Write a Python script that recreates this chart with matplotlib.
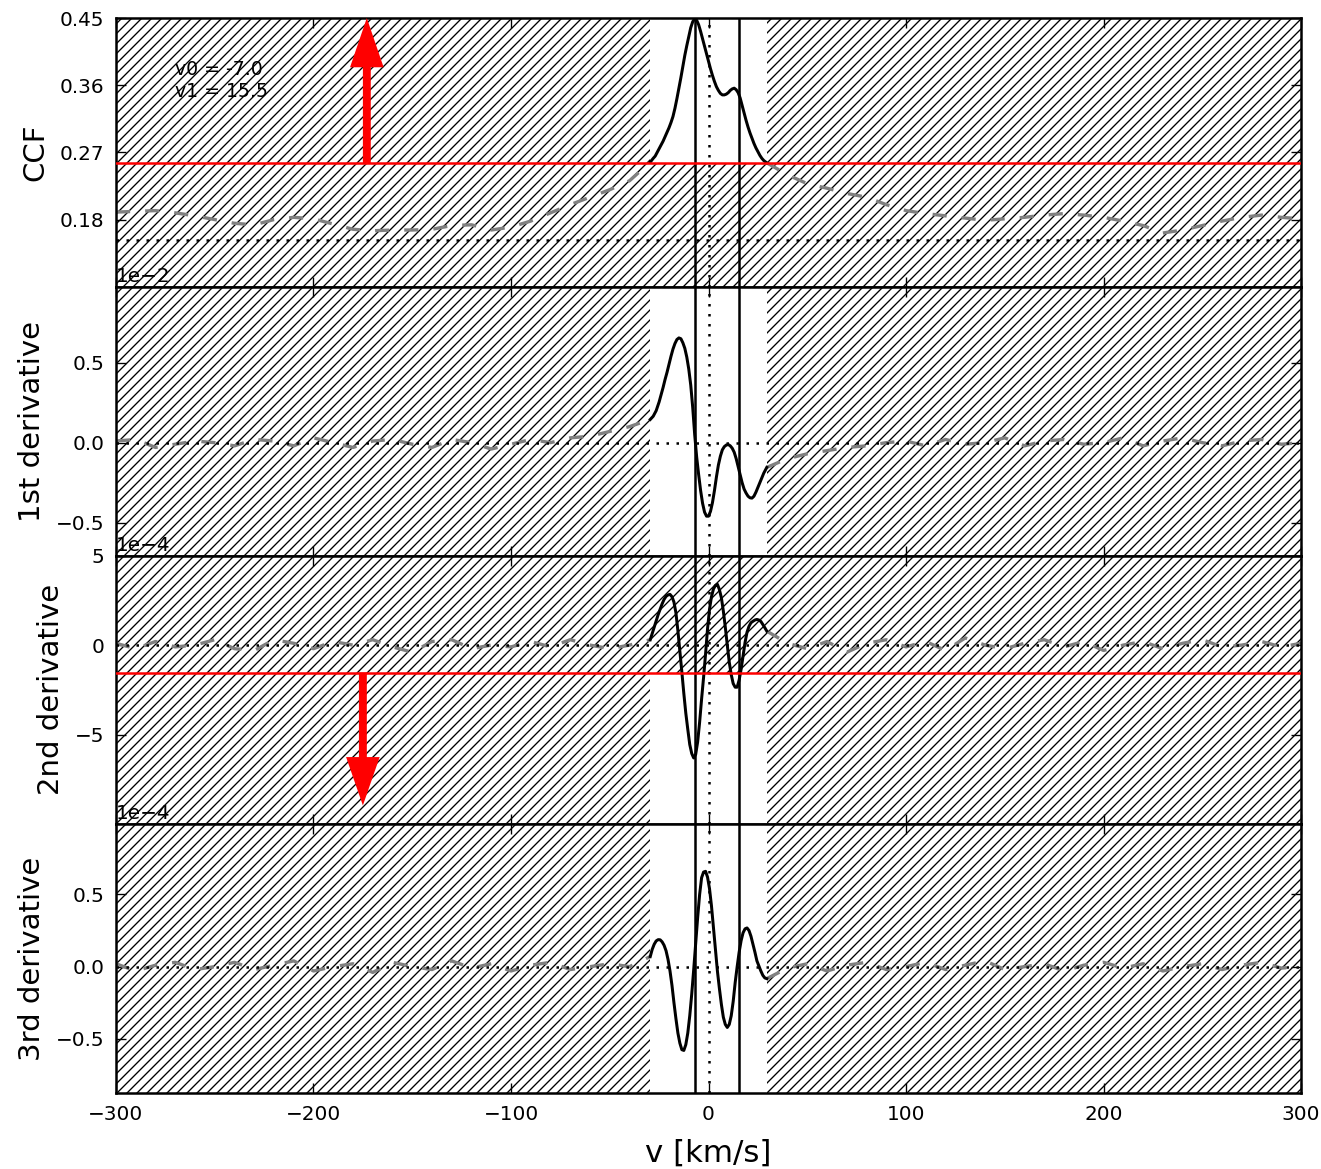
import numpy as np
import matplotlib.pyplot as plt

plt.rcParams['font.family'] = 'DejaVu Sans'
plt.rcParams['hatch.linewidth'] = 0.8
plt.rcParams['hatch.color'] = 'k'
plt.rcParams['lines.scale_dashes'] = False
plt.rcParams['axes.linewidth'] = 1.5
plt.rcParams['xtick.direction'] = 'in'
plt.rcParams['ytick.direction'] = 'in'
plt.rcParams['xtick.top'] = True
plt.rcParams['ytick.right'] = True

# fitted velocities and window
v0 = -7.0
v1 = 15.5
win_lo = -29.5
win_hi = 29.5

# thresholds (red lines)
ccf_thr = 0.2553
d2_thr = -1.53e-4
ccf_base = 0.1525

# CCF inside the window
v_ccf = [-29.5, -28, -27, -26, -25, -24, -23, -22, -21, -20, -19, -18, -17, -16, -15, -14,
         -13, -12, -11, -10, -9, -8, -7, -6, -5, -4, -3, -2, -1, 0, 1, 2, 3, 4, 5, 6, 7, 8,
         9, 10, 11, 12, 13, 14, 15, 16, 17, 18, 19, 20, 21, 22, 23, 24, 25, 26, 27, 28, 29.5]
ccf_in = [0.257, 0.262, 0.265, 0.270, 0.275, 0.280, 0.285, 0.291, 0.297, 0.303, 0.310, 0.318,
          0.329, 0.342, 0.356, 0.370, 0.385, 0.400, 0.413, 0.425, 0.437, 0.445, 0.449, 0.447,
          0.441, 0.432, 0.422, 0.412, 0.402, 0.392, 0.382, 0.373, 0.365, 0.358, 0.353, 0.349,
          0.347, 0.347, 0.348, 0.350, 0.353, 0.355, 0.356, 0.354, 0.350, 0.343, 0.333, 0.323,
          0.313, 0.304, 0.296, 0.289, 0.282, 0.276, 0.271, 0.266, 0.262, 0.259, 0.256]

# 1st derivative inside the window (units of 1e-2)
v_d1 = [-29.5, -28, -26.5, -25, -24, -23, -22, -21, -20, -19, -18, -17, -16, -15, -14, -13,
        -12, -11, -10, -9, -8, -7, -6, -5, -4, -3, -2, -1, 0, 1, 2, 3, 4, 5, 6, 7, 8, 9,
        10, 11, 12, 13, 14, 15, 16, 17, 18, 19, 20, 21, 22, 23, 24, 25, 26, 27, 28, 29.5]
d1_in = [0.145, 0.165, 0.20, 0.255, 0.30, 0.345, 0.395, 0.44, 0.49, 0.54, 0.585, 0.62,
         0.645, 0.655, 0.65, 0.625, 0.59, 0.535, 0.46, 0.36, 0.22, 0.05, -0.09, -0.20,
         -0.30, -0.38, -0.435, -0.46, -0.46, -0.43, -0.375, -0.30, -0.215, -0.14, -0.085,
         -0.045, -0.025, -0.015, -0.012, -0.02, -0.035, -0.06, -0.10, -0.15, -0.20, -0.25,
         -0.29, -0.315, -0.335, -0.345, -0.347, -0.335, -0.31, -0.28, -0.25, -0.22, -0.19,
         -0.155]

# 2nd and 3rd derivatives inside the window (units of 1e-4)
v_d23 = [-29.5, -28.5, -27.5, -26.5, -25.5, -24.5, -23.5, -22.5, -21.5, -20.5, -19.5, -18.5,
         -17.5, -16.5, -15.5, -14.5, -13.5, -12.5, -11.5, -10.5, -9.5, -8.5, -7.5, -6.5,
         -5.5, -4.5, -3.5, -2.5, -1.5, -0.5, 0.5, 1.5, 2.5, 3.5, 4.5, 5.5, 6.5, 7.5, 8.5,
         9.5, 10.5, 11.5, 12.5, 13.5, 14.5, 15.5, 16.5, 17.5, 18.5, 19.5, 20.5, 21.5, 22.5,
         23.5, 24.5, 25.5, 26.5, 27.5, 28.5, 29.5]
d2_in = [0.30, 0.65, 1.0, 1.35, 1.70, 2.0, 2.3, 2.55, 2.72, 2.80, 2.83, 2.70,
         2.40, 1.80, 0.80, -0.35, -1.5, -2.7, -3.8, -4.7, -5.55, -6.05, -6.3, -6.1,
         -5.4, -4.3, -3.0, -1.8, -0.5, 0.9, 2.0, 2.7, 3.13, 3.33, 3.39, 3.1, 2.65, 1.9, 1.0,
         0.0, -0.95, -1.65, -2.15, -2.35, -2.35, -1.95, -1.35, -0.6, 0.15, 0.72, 1.05, 1.25,
         1.33, 1.40, 1.43, 1.40, 1.32, 1.15, 0.97, 0.78]
d3_in = [0.07, 0.12, 0.155, 0.178, 0.187, 0.186, 0.172, 0.148, 0.11, 0.05, -0.03, -0.13,
         -0.25, -0.36, -0.46, -0.53, -0.575, -0.58, -0.54, -0.46, -0.34, -0.19, -0.02, 0.16,
         0.34, 0.50, 0.616, 0.655, 0.66, 0.62, 0.54, 0.42, 0.27, 0.12, -0.03, -0.15, -0.26,
         -0.35, -0.40, -0.421, -0.40, -0.34, -0.24, -0.11, 0.0, 0.10, 0.18, 0.235, 0.262,
         0.268, 0.25, 0.21, 0.155, 0.10, 0.04, 0.005, -0.03, -0.06, -0.078, -0.083]

# outside the window (grey dashed)
v_left = [-300, -290, -280, -270, -260, -250, -240, -230, -220, -210, -200, -190, -180, -170,
          -160, -150, -140, -130, -120, -110, -100, -90, -80, -70, -60, -50, -40, -29.5]
v_right = [29.5, 40, 50, 60, 70, 80, 90, 100, 110, 120, 130, 140, 150, 160,
           170, 180, 190, 200, 210, 220, 230, 240, 250, 260, 270, 280, 290, 300]

ccf_left = [0.190, 0.191, 0.192, 0.189, 0.185, 0.180, 0.175, 0.173, 0.180, 0.183, 0.181, 0.174,
            0.167, 0.165, 0.166, 0.166, 0.167, 0.172, 0.173, 0.166, 0.170, 0.178, 0.189, 0.200,
            0.210, 0.220, 0.232, 0.257]
ccf_right = [0.256, 0.240, 0.228, 0.222, 0.215, 0.210, 0.200, 0.192, 0.188, 0.185, 0.182, 0.179,
             0.181, 0.183, 0.186, 0.188, 0.186, 0.183, 0.178, 0.172, 0.162, 0.166, 0.172, 0.178,
             0.183, 0.186, 0.183, 0.181]
d1_left = [0.01, 0.02, -0.03, -0.01, 0.01, 0.0, -0.02, 0.02, 0.01, -0.02, 0.03, 0.0,
           -0.03, 0.01, 0.02, -0.01, -0.03, 0.02, 0.0, -0.04, -0.01, 0.02, 0.0, 0.03,
           0.04, 0.07, 0.10, 0.145]
d1_right = [-0.155, -0.10, -0.07, -0.05, -0.03, -0.02, 0.0, 0.01, -0.02, 0.02, -0.01, 0.0,
            0.03, -0.02, 0.01, 0.02, -0.01, 0.0, 0.03, -0.02, 0.01, 0.03, 0.0, -0.02,
            0.01, 0.02, -0.01, 0.0]
d2_left = [0.1, -0.2, 0.2, -0.1, 0.0, 0.3, -0.2, -0.3, 0.3, 0.1, -0.2, 0.2,
           0.0, 0.3, -0.1, -0.4, 0.2, 0.3, -0.2, 0.0, -0.1, 0.2, -0.1, 0.3,
           0.0, -0.2, 0.0, 0.30]
d2_right = [0.78, 0.1, -0.2, 0.2, -0.4, 0.1, 0.3, -0.1, 0.2, -0.3, 0.4, 0.0,
            -0.2, 0.1, 0.3, -0.1, 0.2, -0.3, 0.0, 0.2, -0.2, 0.1, 0.3, -0.1,
            0.0, 0.2, -0.1, 0.1]
d3_left = [0.02, -0.03, 0.01, 0.03, -0.02, 0.0, 0.03, -0.02, 0.01, 0.04, -0.03, 0.0,
           0.02, -0.04, 0.03, 0.0, -0.02, 0.04, -0.01, 0.02, -0.03, 0.01, 0.03, -0.02,
           0.0, 0.02, 0.0, 0.07]
d3_right = [-0.083, -0.01, 0.02, -0.03, 0.01, 0.03, -0.02, 0.0, 0.03, -0.02, 0.01, 0.04,
            -0.02, 0.0, 0.02, -0.03, 0.01, 0.03, -0.01, 0.02, -0.03, 0.0, 0.02, -0.02,
            0.01, 0.03, -0.01, 0.0]

panels = [
    ('CCF', v_ccf, ccf_in, ccf_left, ccf_right, 0, ccf_base, (0.09, 0.45), [0.18, 0.27, 0.36, 0.45]),
    ('1st derivative', v_d1, d1_in, d1_left, d1_right, -2, 0.0, (-0.00706, 0.00975), [-0.005, 0, 0.005]),
    ('2nd derivative', v_d23, d2_in, d2_left, d2_right, -4, 0.0, (-10e-4, 5e-4), [-5e-4, 0, 5e-4]),
    ('3rd derivative', v_d23, d3_in, d3_left, d3_right, -4, 0.0, (-0.875e-4, 0.986e-4), [-0.5e-4, 0, 0.5e-4]),
]

fig, axes = plt.subplots(4, 1, sharex=True, figsize=(1321 / 120, 1169 / 120), dpi=120)
fig.subplots_adjust(left=0.0878, right=0.9849, top=0.9846, bottom=0.065, hspace=0)

dots = (1.5, 4.5)
for ax, (label, v_in, y_in, y_left, y_right, order, base, ylim, yticks) in zip(axes, panels):
    scale = 10.0 ** order
    # hatched (excluded) regions outside the window
    ax.add_patch(plt.Rectangle((-300, ylim[0]), win_lo + 300, ylim[1] - ylim[0], fill=False,
                               hatch='////', edgecolor='k', lw=0, zorder=0.5))
    ax.add_patch(plt.Rectangle((win_hi, ylim[0]), 300 - win_hi, ylim[1] - ylim[0], fill=False,
                               hatch='////', edgecolor='k', lw=0, zorder=0.5))

    ax.plot(v_left, np.array(y_left) * scale, color='0.5', lw=2.0, dashes=(8.5, 9))
    ax.plot(v_right, np.array(y_right) * scale, color='0.5', lw=2.0, dashes=(8.5, 9))
    ax.plot(v_in, np.array(y_in) * scale, color='k', lw=1.8, zorder=3)

    ax.axhline(base, color='k', lw=1.5, dashes=dots)
    ax.axvline(0, color='k', lw=1.5, dashes=dots)
    ax.axvline(v0, color='k', lw=1.5)
    ax.axvline(v1, color='k', lw=1.5)

    ax.set_ylim(ylim)
    ax.set_yticks(yticks)
    if order != 0:
        ax.ticklabel_format(axis='y', style='sci', scilimits=(order, order))
    ax.yaxis.get_offset_text().set_fontsize(12)
    ax.tick_params(labelsize=12, length=6, width=0.8, pad=7)
    ax.set_ylabel(label, fontsize=17.5, labelpad=6)

# CCF panel: threshold line, hatch below it, arrow up
ax = axes[0]
ax.add_patch(plt.Rectangle((win_lo, 0.09), win_hi - win_lo, ccf_thr - 0.09, fill=False,
                           hatch='////', edgecolor='k', lw=0, zorder=0.5))
ax.axhline(ccf_thr, color='red', lw=1.5, zorder=4)
ax.arrow(-173, ccf_thr, 0, 0.45 - ccf_thr, width=4, head_width=17, head_length=0.066,
         length_includes_head=True, color='red', lw=0, zorder=5)
ax.text(0.05, 0.767, 'v0 = %.1f\nv1 = %.1f' % (v0, v1), transform=ax.transAxes,
        fontsize=11.3, va='center', ha='left', linespacing=1.25, zorder=0)

# 2nd derivative panel: threshold line, hatch above it, arrow down
ax = axes[2]
ax.add_patch(plt.Rectangle((win_lo, d2_thr), win_hi - win_lo, 5e-4 - d2_thr, fill=False,
                           hatch='////', edgecolor='k', lw=0, zorder=0.5))
ax.axhline(d2_thr, color='red', lw=1.5, zorder=4)
ax.arrow(-175, d2_thr, 0, -8.95e-4 - d2_thr, width=4, head_width=17, head_length=2.7e-4,
         length_includes_head=True, color='red', lw=0, zorder=5)

axes[-1].set_xlim(-300, 300)
axes[-1].set_xticks([-300, -200, -100, 0, 100, 200, 300])
axes[-1].set_xlabel('v [km/s]', fontsize=18.5, labelpad=9)

fig.savefig('out.png', dpi=120)
